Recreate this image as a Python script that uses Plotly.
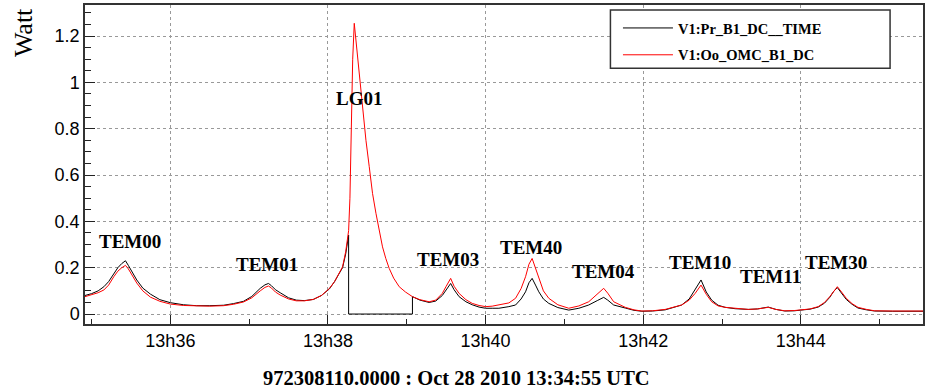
import pandas as pd
import plotly.graph_objects as go

BASE = pd.Timestamp("2010-10-28 13:34:55")

# seconds after 13:34:55 and power (Watt)
t_red = [0, 5, 10, 14.4, 18, 21.9, 25, 28, 30.8, 33, 36, 39.4, 44, 49.8, 57, 65, 75, 85, 95, 105.5,
         113, 120.7, 127, 133.4, 137, 139.7, 142, 145, 148.6, 155, 160.9, 167, 173.8, 180, 186, 190,
         193, 196.1, 198.5, 200.7, 201.7, 202.5, 203.8, 205, 206.3, 208.8, 211.3, 213.9, 216.4,
         218.9, 221.5, 224, 226.5, 229, 231.6, 235, 239.2, 244, 249.3, 255, 262, 267, 272, 275,
         278.4, 281, 284.8, 290, 294.8, 300, 305, 310, 315.1, 322.7, 327.8, 332, 335.4, 338, 340.4,
         343, 345.5, 349, 353.1, 360, 368.3, 376, 383.5, 390, 394.9, 398, 402.5, 411.3, 418, 424,
         432, 441.7, 448, 454.3, 460, 464.5, 469, 473, 477.1, 482, 487.3, 495, 505, 512, 520.2,
         526, 532.8, 540, 545.5, 552, 558.2, 563, 567, 570, 572.8, 576, 579.6, 584, 588.5, 595,
         601.2, 615, 630, 639.5]
v_red = [0.075, 0.082, 0.092, 0.104, 0.125, 0.161, 0.185, 0.2, 0.21, 0.195, 0.165, 0.134, 0.1,
         0.073, 0.055, 0.043, 0.037, 0.034, 0.034, 0.036, 0.042, 0.052, 0.07, 0.1, 0.115, 0.121,
         0.112, 0.095, 0.082, 0.065, 0.057, 0.057, 0.063, 0.08, 0.11, 0.14, 0.17, 0.204, 0.27,
         0.36, 0.5, 0.78, 1.1, 1.255, 1.18, 1.024, 0.88, 0.75, 0.636, 0.521, 0.435, 0.36, 0.29,
         0.24, 0.197, 0.155, 0.118, 0.095, 0.075, 0.062, 0.053, 0.06, 0.089, 0.12, 0.154, 0.12,
         0.089, 0.062, 0.046, 0.037, 0.032, 0.034, 0.039, 0.048, 0.068, 0.11, 0.161, 0.215, 0.24,
         0.2, 0.154, 0.1, 0.068, 0.04, 0.025, 0.035, 0.053, 0.085, 0.111, 0.09, 0.053, 0.029,
         0.018, 0.013, 0.014, 0.02, 0.028, 0.039, 0.06, 0.089, 0.125, 0.085, 0.053, 0.035, 0.029,
         0.024, 0.02, 0.022, 0.029, 0.02, 0.014, 0.015, 0.017, 0.022, 0.032, 0.05, 0.075, 0.1,
         0.118, 0.095, 0.068, 0.045, 0.029, 0.02, 0.014, 0.013, 0.013, 0.013]

t_black = [0, 5, 10, 14.4, 18, 21.9, 25, 28, 30.8, 33, 36, 39.4, 44, 49.8, 57, 65, 75, 85, 95, 105.5,
           113, 120.7, 127, 133.4, 137, 139.7, 142, 145, 148.6, 155, 160.9, 167, 173.8, 180, 186,
           190, 193, 196.1, 198.5, 200.7, 200.7, 249.3, 249.3, 255, 262, 267, 272, 275, 278.4, 281,
           284.8, 290, 294.8, 300, 305, 310, 315.1, 322.7, 327.8, 332, 335.4, 338, 340.4, 343,
           345.5, 349, 353.1, 360, 368.3, 376, 383.5, 390, 394.9, 398, 402.5, 411.3, 418, 424, 432,
           441.7, 448, 454.3, 460, 464.5, 469, 473, 477.1, 482, 487.3, 495, 505, 512, 520.2, 526,
           532.8, 540, 545.5, 552, 558.2, 563, 567, 570, 572.8, 576, 579.6, 584, 588.5, 595, 601.2,
           615, 630, 639.5]
v_black = [0.08, 0.088, 0.1, 0.118, 0.14, 0.176, 0.2, 0.218, 0.23, 0.21, 0.178, 0.147, 0.112,
           0.086, 0.062, 0.049, 0.04, 0.036, 0.036, 0.038, 0.045, 0.055, 0.076, 0.111, 0.126, 0.132,
           0.122, 0.105, 0.092, 0.07, 0.06, 0.058, 0.063, 0.08, 0.108, 0.14, 0.17, 0.2, 0.26, 0.341,
           0.0, 0.0, 0.075, 0.06, 0.05, 0.056, 0.08, 0.105, 0.132, 0.105, 0.075, 0.053, 0.04, 0.03,
           0.025, 0.025, 0.025, 0.032, 0.039, 0.065, 0.096, 0.135, 0.154, 0.125, 0.096, 0.065,
           0.046, 0.028, 0.017, 0.025, 0.039, 0.058, 0.072, 0.06, 0.039, 0.026, 0.016, 0.012,
           0.013, 0.018, 0.027, 0.039, 0.065, 0.104, 0.147, 0.095, 0.06, 0.038, 0.029, 0.023, 0.02,
           0.022, 0.03, 0.02, 0.013, 0.014, 0.016, 0.021, 0.03, 0.047, 0.072, 0.098, 0.114, 0.09,
           0.063, 0.042, 0.026, 0.018, 0.013, 0.012, 0.012, 0.012]

mode_labels = ["TEM00", "TEM01", "LG01", "TEM03", "TEM40", "TEM04", "TEM10", "TEM11", "TEM30"]
mode_t = [34.2, 138.6, 208.8, 276.4, 339.8, 394.9, 468.5, 521.6, 571.4]
mode_v = [0.315, 0.215, 0.931, 0.237, 0.289, 0.183, 0.224, 0.160, 0.224]

series_names = ["V1:Pr_B1_DC__TIME", "V1:Oo_OMC_B1_DC"]


def to_time(secs):
    return [BASE + pd.Timedelta(seconds=s) for s in secs]


fig = go.Figure()
fig.add_trace(go.Scatter(x=to_time(t_black), y=v_black, mode="lines", name=series_names[0],
                         legendgroup="g1", line=dict(color="#000000", width=1)))
fig.add_trace(go.Scatter(x=to_time(t_red), y=v_red, mode="lines", name=series_names[1],
                         legendgroup="g2", line=dict(color="#ff0000", width=1)))

for lab, tt, vv in zip(mode_labels, mode_t, mode_v):
    fig.add_annotation(x=BASE + pd.Timedelta(seconds=tt), y=vv, text="<b>%s</b>" % lab,
                       showarrow=False, xref="x", yref="y",
                       font=dict(family="Liberation Serif", size=19, color="black"))

# y-axis title (top-left, rotated as in the reference)
fig.add_annotation(x=-0.074, y=0.915, xref="paper", yref="paper", text="Watt", textangle=-90,
                   xanchor="center", yanchor="middle",
                   showarrow=False, font=dict(family="Liberation Serif", size=26, color="black"))

# time stamp under the x axis
fig.add_annotation(x=0.443, y=-0.17, xref="paper", yref="paper", yanchor="middle",
                   xanchor="center",
                   text="<b>972308110.0000 : Oct 28 2010 13:34:55 UTC</b>", showarrow=False,
                   font=dict(family="Liberation Serif", size=20.5, color="black"))

# legend frame
fig.add_shape(type="rect", xref="paper", yref="paper", x0=0.627, x1=0.9607, y0=0.802, y1=0.984,
              line=dict(color="#333333", width=1.5), fillcolor="white", layer="above")

fig.update_layout(
    width=928, height=390,
    margin=dict(l=85, r=3, t=5, b=66),
    paper_bgcolor="white", plot_bgcolor="white",
    showlegend=True,
    legend=dict(x=0.636, y=0.978, xanchor="left", yanchor="top", bgcolor="rgba(0,0,0,0)",
                borderwidth=0,
                font=dict(family="Liberation Serif", size=14.5, color="black", weight="bold"),
                tracegroupgap=5, itemwidth=50),
    xaxis=dict(
        type="date",
        range=[BASE, BASE + pd.Timedelta(seconds=638)],
        tickformat="%Hh%M", dtick=120000, tick0=BASE.floor("h"),
        ticks="inside", ticklen=9, tickcolor="#222222", tickwidth=1,
        minor=dict(ticks="inside", ticklen=5, dtick=60000, tick0=BASE.floor("h"),
                   tickcolor="#222222", showgrid=False),
        showgrid=True, gridcolor="#999999", griddash="dot", gridwidth=1,
        showline=True, linecolor="#333333", linewidth=1.5, mirror=True,
        zeroline=False,
        tickfont=dict(family="Liberation Sans", size=18, color="black"),
    ),
    yaxis=dict(
        range=[-0.043, 1.334],
        dtick=0.2, tick0=0,
        ticks="inside", ticklen=10, tickcolor="#222222", tickwidth=1,
        minor=dict(ticks="inside", ticklen=6, dtick=0.05, tick0=0, tickcolor="#222222",
                   showgrid=False),
        showgrid=True, gridcolor="#999999", griddash="dot", gridwidth=1,
        showline=True, linecolor="#333333", linewidth=1.5, mirror=True,
        zeroline=False,
        tickformat="~g",
        tickfont=dict(family="Liberation Sans", size=18, color="black"),
    ),
)

fig.write_html("out.html", config={"displayModeBar": False},
               post_script="document.body.style.margin='0';document.body.style.overflow='hidden';")
